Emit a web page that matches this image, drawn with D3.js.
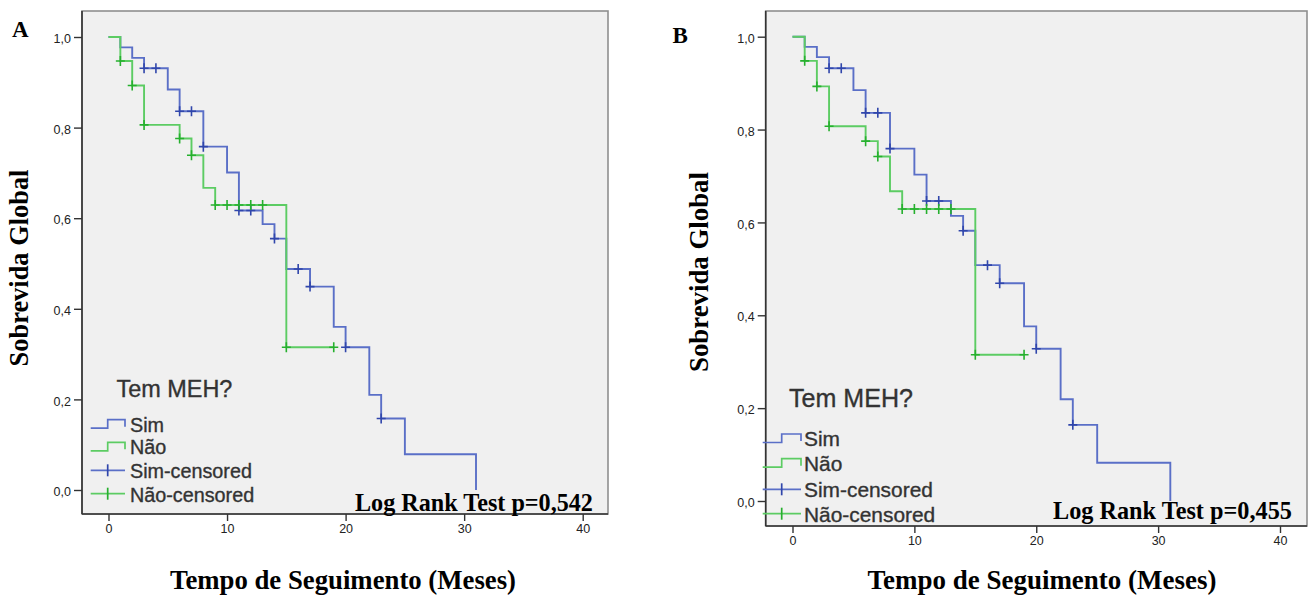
<!DOCTYPE html>
<html><head><meta charset="utf-8">
<script src="https://cdn.jsdelivr.net/npm/d3@7"></script>
<style>body{margin:0;background:#fff}</style>
</head><body>
<svg id="c" width="1313" height="597"></svg>
<script>
// ---------- data ----------
const xTicks = [0, 10, 20, 30, 40];
const yTicks = [0, 0.2, 0.4, 0.6, 0.8, 1.0];
const legendTitle = "Tem MEH?";
const legendLabels = ["Sim", "Não", "Sim-censored", "Não-censored"];
const yTitle = "Sobrevida Global";
const xTitle = "Tempo de Seguimento (Meses)";

// Panel A
const simA_t = [0, 1, 2, 3, 5, 6, 8, 10, 11, 13, 14, 15, 17, 19, 20, 22, 23, 25, 31];
const simA_s = [1, 0.977, 0.954, 0.931, 0.884, 0.836, 0.758, 0.701, 0.617, 0.587, 0.555, 0.488, 0.449, 0.360, 0.315, 0.210, 0.158, 0.079, 0];
const simCensA = [3, 4, 6, 7, 8, 11, 12, 14, 16, 17, 20, 23];
const naoA_t = [0, 1, 2, 3, 6, 7, 8, 9, 15];
const naoA_s = [1, 0.947, 0.893, 0.806, 0.776, 0.739, 0.667, 0.629, 0.315];
const naoEndA = 19;
const naoCensA = [1, 2, 3, 6, 7, 9, 10, 11, 12, 13, 15, 19];
const pTextA = "Log Rank Test p=0,542";

// Panel B
const simB_t = [0, 1, 2, 3, 5, 6, 8, 10, 11, 13, 14, 15, 17, 19, 20, 22, 23, 25, 31];
const simB_s = [1, 0.978, 0.956, 0.932, 0.885, 0.836, 0.759, 0.703, 0.646, 0.614, 0.582, 0.508, 0.469, 0.376, 0.328, 0.219, 0.164, 0.0825, 0];
const simCensB = [3, 4, 6, 7, 8, 11, 12, 14, 16, 17, 20, 23];
const naoB_t = [0, 1, 2, 3, 6, 7, 8, 9, 15];
const naoB_s = [1, 0.948, 0.893, 0.807, 0.775, 0.742, 0.667, 0.629, 0.315];
const naoEndB = 19;
const naoCensB = [1, 2, 3, 6, 7, 9, 10, 11, 12, 13, 15, 19];
const pTextB = "Log Rank Test p=0,455";

// ---------- drawing ----------
const svg = d3.select("#c");
const BLUE = "#5a6fc7", BLUE_D = "#3046ab";
const GREEN = "#5ccc63", GREEN_D = "#26b02e";
const SERIF = "'Liberation Serif','Times New Roman',serif";
const SANS = "'Liberation Sans',Arial,sans-serif";
const LEGTXT = "#333";

function fit(sel, target) {
  const base = 20;
  sel.attr("font-size", base);
  const len = sel.node().getComputedTextLength();
  const fs = base * target / len;
  sel.attr("font-size", fs);
  return fs;
}

function stepValue(ts, ss, t) {
  let v = ss[0];
  for (let i = 0; i < ts.length; i++) if (ts[i] <= t) v = ss[i];
  return v;
}

function drawPanel(cfg) {
  const g = svg.append("g");
  const x = d3.scaleLinear().domain([0, 40]).range([cfg.x0, cfg.x40]);
  const y = d3.scaleLinear().domain([0, 1]).range([cfg.y0, cfg.y1]);

  // plot frame
  g.append("rect").attr("x", cfg.L).attr("y", cfg.T)
    .attr("width", cfg.R - cfg.L).attr("height", cfg.B - cfg.T)
    .attr("fill", "#f0f0f0").attr("stroke", "#8f8f8f").attr("stroke-width", 1.6);

  // axes
  const ya = d3.axisLeft(y).tickValues(yTicks).tickSize(8).tickSizeOuter(0)
    .tickFormat(d => d3.format(".1f")(d).replace(".", ","));
  const yg = g.append("g").attr("transform", `translate(${cfg.L},0)`).call(ya);
  yg.select(".domain").attr("d", `M0,${cfg.T}V${cfg.B}`).attr("stroke", "#333").attr("stroke-width", 1.6);
  yg.selectAll(".tick line").attr("stroke", "#333").attr("stroke-width", 1.4);
  yg.selectAll(".tick text").attr("font-family", SANS).attr("font-size", 12.5).attr("fill", "#222")
    .attr("x", -11).attr("dy", "0.45em");

  const xa = d3.axisBottom(x).tickValues(xTicks).tickSize(7).tickSizeOuter(0);
  const xg = g.append("g").attr("transform", `translate(0,${cfg.B})`).call(xa);
  xg.select(".domain").attr("d", `M${cfg.L},0H${cfg.R}`).attr("stroke", "#333").attr("stroke-width", 1.6);
  xg.selectAll(".tick line").attr("stroke", "#333").attr("stroke-width", 1.4);
  xg.selectAll(".tick text").attr("font-family", SANS).attr("font-size", 12.5).attr("fill", "#222")
    .attr("y", 10).attr("dy", "0.75em");

  const line = d3.line().x(d => x(d[0])).y(d => y(d[1])).curve(d3.curveStepAfter);
  const simPts = cfg.simT.map((t, i) => [t, cfg.simS[i]]);
  const naoPts = cfg.naoT.map((t, i) => [t, cfg.naoS[i]]);
  naoPts.push([cfg.naoEnd, cfg.naoS[cfg.naoS.length - 1]]);

  g.append("path").attr("d", line(simPts)).attr("fill", "none")
    .attr("stroke", BLUE).attr("stroke-width", 1.9);
  g.append("path").attr("d", line(naoPts)).attr("fill", "none")
    .attr("stroke", GREEN).attr("stroke-width", 1.9);

  function cens(ts, tArr, sArr, col) {
    ts.forEach(t => {
      const cx = x(t), cy = y(stepValue(tArr, sArr, t));
      g.append("path").attr("d", `M${cx - 4.5},${cy}H${cx + 4.5}M${cx},${cy - 5}V${cy + 5}`)
        .attr("stroke", col).attr("stroke-width", 1.6).attr("fill", "none");
    });
  }
  cens(cfg.simCens, cfg.simT, cfg.simS, BLUE_D);
  cens(cfg.naoCens, cfg.naoT, cfg.naoS, GREEN_D);

  // legend
  const lg = cfg.leg;
  const tt = g.append("text").attr("x", lg.titleX).attr("y", lg.titleY)
    .attr("font-family", SANS).attr("fill", LEGTXT)
    .attr("stroke", LEGTXT).attr("stroke-width", 0.35).text(legendTitle);
  fit(tt, lg.titleW);
  const cols = [BLUE, GREEN, BLUE, GREEN];
  const colsD = [BLUE, GREEN, BLUE_D, GREEN_D];
  const items = [];
  let fs = null;
  legendLabels.forEach((lab, i) => {
    const by = lg.base[i];
    const t = g.append("text").attr("x", lg.textX).attr("y", by)
      .attr("font-family", SANS).attr("fill", LEGTXT)
      .attr("stroke", LEGTXT).attr("stroke-width", 0.35).text(lab);
    items.push(t);
    if (i === 2) fs = fit(t, lg.itemW);
    if (i < 2) {
      g.append("path").attr("d", `M${lg.ix0},${by - 3.5}H${lg.ixs}V${by - 12}H${lg.ix1}V${by - 5}`)
        .attr("fill", "none").attr("stroke", cols[i]).attr("stroke-width", 1.7);
    } else {
      g.append("path").attr("d", `M${lg.ix0},${by - 8}H${lg.ix1}`)
        .attr("fill", "none").attr("stroke", cols[i]).attr("stroke-width", 1.7);
      g.append("path").attr("d", `M${lg.ixs},${by - 14}V${by - 2}`)
        .attr("fill", "none").attr("stroke", colsD[i]).attr("stroke-width", 1.7);
    }
  });
  items.forEach(t => t.attr("font-size", fs));

  // log rank text
  const pt = g.append("text").attr("x", cfg.pX).attr("y", cfg.pY)
    .attr("font-family", SERIF).attr("font-weight", "bold").attr("fill", "#000").text(cfg.pText);
  fit(pt, cfg.pW);

  // panel letter
  g.append("text").attr("x", cfg.letX).attr("y", cfg.letY)
    .attr("font-family", SERIF).attr("font-weight", "bold").attr("font-size", 23).text(cfg.letter);

  // axis titles
  const yt = g.append("text").attr("transform", `translate(${cfg.ytX},${cfg.ytY}) rotate(-90)`)
    .attr("text-anchor", "middle").attr("font-family", SERIF).attr("font-weight", "bold").text(yTitle);
  fit(yt, cfg.ytW);
  const xt = g.append("text").attr("x", cfg.xtX).attr("y", cfg.xtY)
    .attr("text-anchor", "middle").attr("font-family", SERIF).attr("font-weight", "bold").text(xTitle);
  fit(xt, cfg.xtW);
}

drawPanel({
  L: 82, R: 608, T: 11, B: 514, x0: 108.5, x40: 582.7, y0: 490, y1: 37,
  simT: simA_t, simS: simA_s, simCens: simCensA,
  naoT: naoA_t, naoS: naoA_s, naoEnd: naoEndA, naoCens: naoCensA,
  pText: pTextA, pX: 355, pY: 511, pW: 238,
  letter: "A", letX: 12, letY: 37,
  ytX: 28, ytY: 268, ytW: 197,
  xtX: 343, xtY: 589, xtW: 346,
  leg: { titleX: 116.5, titleY: 397, titleW: 116, textX: 130, itemW: 122,
         base: [431.7, 454.3, 478.3, 501.7], ix0: 90.7, ixs: 107.7, ix1: 125 }
});

drawPanel({
  L: 765.7, R: 1307, T: 11, B: 526, x0: 792.5, x40: 1280, y0: 501, y1: 36.7,
  simT: simB_t, simS: simB_s, simCens: simCensB,
  naoT: naoB_t, naoS: naoB_s, naoEnd: naoEndB, naoCens: naoCensB,
  pText: pTextB, pX: 1053, pY: 519, pW: 239,
  letter: "B", letX: 672.5, letY: 43,
  ytX: 708, ytY: 272, ytW: 200,
  xtX: 1042, xtY: 589, xtW: 349,
  leg: { titleX: 789, titleY: 407, titleW: 124, textX: 804, itemW: 129,
         base: [446, 470.7, 497.3, 521.7], ix0: 762.7, ixs: 781.7, ix1: 801 }
});
</script>
</body></html>
